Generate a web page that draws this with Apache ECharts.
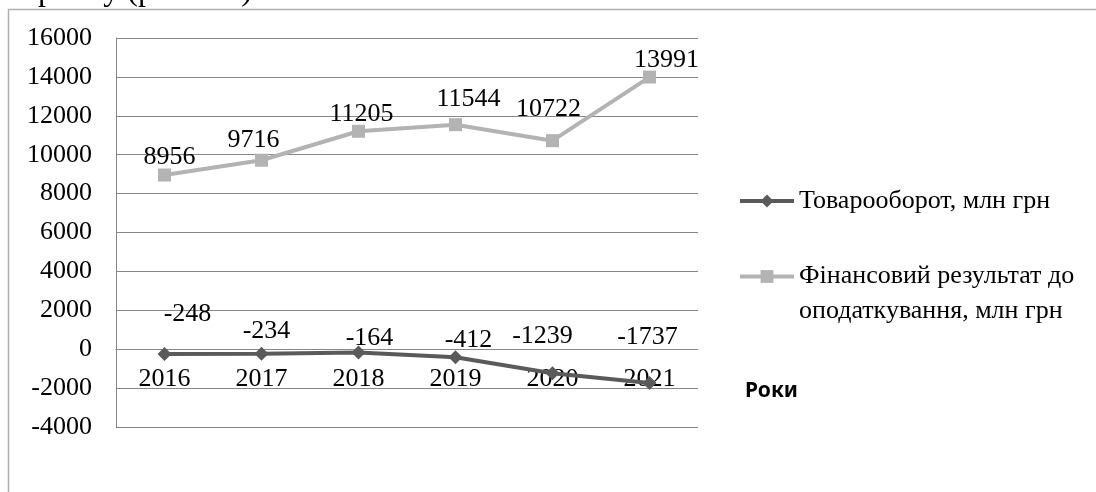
<!DOCTYPE html>
<html><head><meta charset="utf-8">
<script src="https://cdn.jsdelivr.net/npm/echarts@6/dist/echarts.min.js"></script>
<style>html,body{margin:0;padding:0;background:#fff}#c{width:1096px;height:492px}</style>
</head><body><div id="c"></div>
<script>
// ---- data ----
const years = ['2016', '2017', '2018', '2019', '2020', '2021'];
const turnover = [-248, -234, -164, -412, -1239, -1737];
const profit = [8956, 9716, 11205, 11544, 10722, 13991];
const yMin = -4000, yMax = 16000, yStep = 2000;
const seriesNames = ['Товарооборот, млн грн', 'Фінансовий результат до оподаткування, млн грн'];
const axisTitle = 'Роки';
const caption = 'ринку (рис. 2.1)';

// ---- presentation ----
const SERIF = '"Liberation Serif", "Times New Roman", serif';
const labelNudge1 = [[23, -18], [5, -1], [11, 8], [13, 5], [-10, -15], [-2, -24]];
const labelNudge2 = [[5, 4], [-8, 1], [3, 4], [13, -4], [-4, -10], [17, 5]];
const c1 = '#5a5a5a', c2 = '#b3b3b3';
const lbl = { show: true, position: 'top', distance: 0, color: '#000', fontFamily: SERIF, fontSize: 26, lineHeight: 30 };
const GRID = { left: 116, right: 398, top: 38, bottom: 65 };
const plotH = 492 - GRID.top - GRID.bottom;
const zeroShift = -plotH * (0 - yMin) / (yMax - yMin);

const chart = echarts.init(document.getElementById('c'), null, { renderer: 'canvas' });
chart.setOption({
  animation: false,
  backgroundColor: '#fff',
  textStyle: { fontFamily: SERIF },
  grid: Object.assign({ containLabel: false }, GRID),
  xAxis: {
    type: 'category', data: years, boundaryGap: true, offset: zeroShift,
    axisLine: { show: true, onZero: false, lineStyle: { color: '#878787', width: 1 } },
    axisTick: { show: false },
    axisLabel: { color: '#000', fontFamily: SERIF, fontSize: 26, lineHeight: 30, margin: 15 },
    splitLine: { show: false }
  },
  yAxis: {
    type: 'value', min: yMin, max: yMax, interval: yStep,
    axisLine: { show: true, lineStyle: { color: '#878787', width: 1 } },
    axisTick: { show: false },
    axisLabel: { color: '#000', fontFamily: SERIF, fontSize: 26, margin: 24, formatter: v => String(v) },
    splitLine: { show: true, lineStyle: { color: '#878787', width: 1 } }
  },
  legend: [
    {
      data: [seriesNames[0]], orient: 'vertical', left: 738, top: 186,
      itemWidth: 54, itemHeight: 16, itemGap: 0, padding: 0,
      lineStyle: { width: 4 },
      textStyle: { color: '#000', fontFamily: SERIF, fontSize: 26, lineHeight: 30 }
    },
    {
      data: [seriesNames[1]], orient: 'vertical', left: 738, top: 224,
      itemWidth: 54, itemHeight: 16, itemGap: 0, padding: 0,
      lineStyle: { width: 4 },
      formatter: n => '\n' + n.replace(' до ', ' до\n'),
      textStyle: { color: '#000', fontFamily: SERIF, fontSize: 26, lineHeight: 35 }
    }
  ],
  series: [
    {
      name: seriesNames[0], type: 'line',
      data: turnover.map((v, i) => ({ value: v, label: { offset: labelNudge1[i] } })),
      symbol: 'diamond', symbolSize: 14,
      lineStyle: { color: c1, width: 4 }, itemStyle: { color: c1 },
      label: lbl
    },
    {
      name: seriesNames[1], type: 'line',
      data: profit.map((v, i) => ({ value: v, label: { offset: labelNudge2[i] } })),
      symbol: 'rect', symbolSize: 13,
      lineStyle: { color: c2, width: 4 }, itemStyle: { color: c2 },
      label: lbl
    }
  ],
  graphic: [
    { type: 'rect', silent: true, z: 0, shape: { x: 8.5, y: 9.5, width: 1200, height: 600 },
      style: { fill: 'none', stroke: '#b0b0b0', lineWidth: 1.5 } },
    { type: 'text', silent: true, style: { text: caption, x: 38, y: 8, font: '32px ' + SERIF, verticalAlign: 'bottom', fill: '#000' } },
    { type: 'text', silent: true, style: { text: axisTitle, x: 745, y: 391, font: 'bold 21px "Noto Sans", sans-serif', verticalAlign: 'middle', fill: '#000' } }
  ]
});
</script>
</body></html>
